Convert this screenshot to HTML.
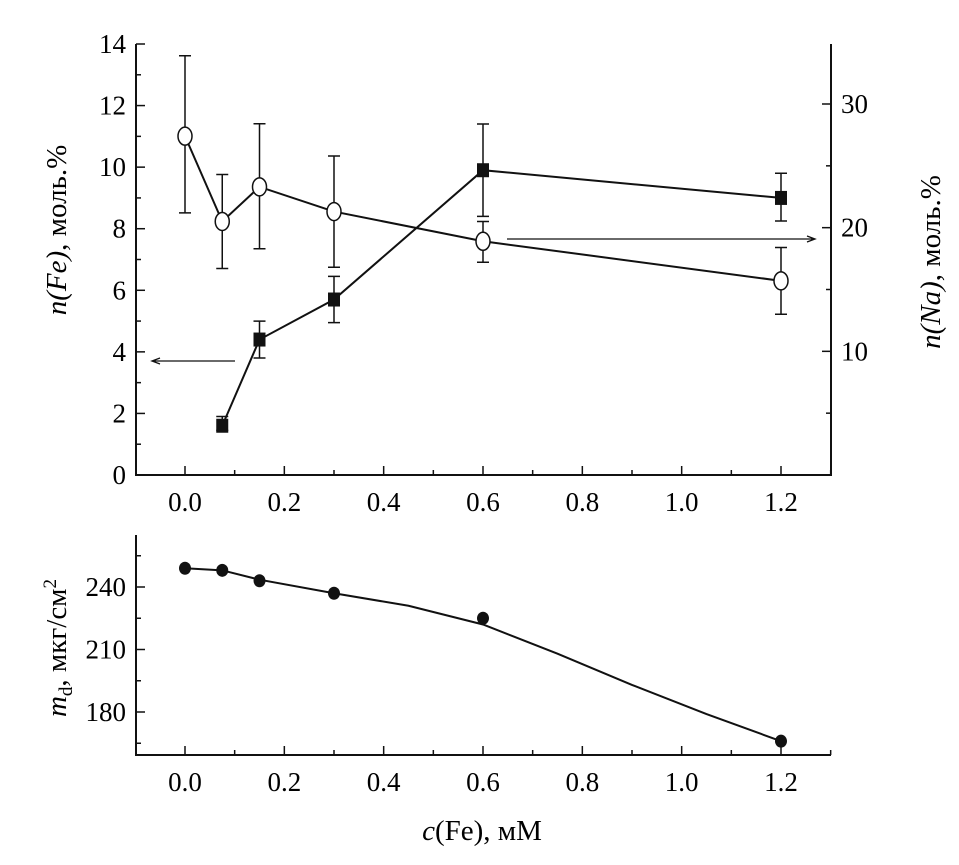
<!DOCTYPE html>
<html><head><meta charset="utf-8"><style>
html,body{margin:0;padding:0;background:#fff;}
svg{display:block;font-family:"Liberation Serif","DejaVu Serif",serif;}
</style></head><body>
<svg id="chart" width="959" height="865" viewBox="0 0 959 865">
<g id="topPanel"></g>
<g id="botPanel"></g>
<text transform="translate(66,230) rotate(-90)" text-anchor="middle" font-size="29"><tspan font-style="italic">n(Fe)</tspan>, моль.%</text>
<text transform="translate(940,262) rotate(-90)" text-anchor="middle" font-size="29"><tspan font-style="italic">n(Na)</tspan>, моль.%</text>
<text transform="translate(66,648) rotate(-90)" text-anchor="middle" font-size="29"><tspan font-style="italic">m</tspan><tspan font-size="19" dy="6">d</tspan><tspan dy="-6">, мкг/см</tspan><tspan font-size="19" dy="-10">2</tspan></text>
<text x="482" y="840" text-anchor="middle" font-size="29"><tspan font-style="italic">c</tspan>(Fe), мМ</text>
</svg>
<script>
const xCats=[0,0.075,0.15,0.3,0.6,1.2];
const feVals=[null,1.6,4.4,5.7,9.9,9.0];
const feLo=[null,1.45,3.8,4.95,8.4,8.25];
const feHi=[null,1.9,5.0,6.45,11.4,9.8];
const naVals=[27.4,20.5,23.3,21.3,18.9,15.7];
const naLo=[21.2,16.7,18.3,16.8,17.2,13.0];
const naHi=[33.9,24.3,28.4,25.8,20.5,18.4];
const mdVals=[249,248,243,237,225,166];
const fitX=[0,0.075,0.15,0.3,0.45,0.6,0.75,0.9,1.05,1.2];
const fitVals=[249,248,243.5,237,231,222,208,193,179,166];
const xTicks=[0,0.2,0.4,0.6,0.8,1.0,1.2];
const leftTicks=[0,2,4,6,8,10,12,14];
const rightTicks=[10,20,30];
const mdTicks=[180,210,240];

const NS="http://www.w3.org/2000/svg";
const X0=136,X1=831;
const x=v=>185+(v)*(781-185)/1.2;
const yL=v=>475-v*(475-44)/14;
const yR=v=>475-v*(475-104)/30;
const yM=v=>587-(v-240)*(712-587)/60;
function el(p,tag,a){const e=document.createElementNS(NS,tag);for(const k in a)e.setAttribute(k,a[k]);p.appendChild(e);return e;}
const gTop=document.getElementById('topPanel'),gBot=document.getElementById('botPanel');
const st={stroke:'#111','stroke-width':2,fill:'none'};
let a=el(gTop,'path',Object.assign({d:`M${X0},44V475H${X1}V44`},st));


for(let v=0;v<=14;v++){const t=el(gTop,'line',{x1:X0,x2:X0+(v%2?5:9),y1:yL(v),y2:yL(v),stroke:'#111','stroke-width':1.5});

}
leftTicks.forEach(v=>{const t=el(gTop,'text',{x:X0-10,y:yL(v)+9,'text-anchor':'end','font-size':27});t.textContent=v;

});
for(let v=5;v<=30;v+=5){const t=el(gTop,'line',{x1:X1,x2:X1-(v%10?5:9),y1:yR(v),y2:yR(v),stroke:'#111','stroke-width':1.5});

}
rightTicks.forEach(v=>{const t=el(gTop,'text',{x:X1+10,y:yR(v)+9,'font-size':27});t.textContent=v;

});
function xAxis(g,yb){for(let i=0;i<=13;i++){const v=i*0.1;const t=el(g,'line',{x1:x(v),x2:x(v),y1:yb,y2:yb-(i%2?5:9),stroke:'#111','stroke-width':1.5});

}
xTicks.forEach(v=>{const t=el(g,'text',{x:x(v),y:yb+36,'text-anchor':'middle','font-size':27});t.textContent=v.toFixed(1);

});}
xAxis(gTop,475);
let pts=xCats.map((c,i)=>x(c)+','+yR(naVals[i])).join(' ');
let l=el(gTop,'polyline',{points:pts,stroke:'#111','stroke-width':2,fill:'none'});


pts=xCats.map((c,i)=>feVals[i]==null?null:x(c)+','+yL(feVals[i])).filter(p=>p).join(' ');
l=el(gTop,'polyline',{points:pts,stroke:'#111','stroke-width':2,fill:'none'});


function err(g,cx,y1,y2,name){const e=el(g,'path',{d:`M${cx},${y1}V${y2}M${cx-6},${y1}H${cx+6}M${cx-6},${y2}H${cx+6}`,stroke:'#111','stroke-width':1.5,fill:'none'});

}
xCats.forEach((c,i)=>{err(gTop,x(c),yR(naLo[i]),yR(naHi[i]),'na-error-bar');
if(feVals[i]!=null)err(gTop,x(c),yL(feLo[i]),yL(feHi[i]),'fe-error-bar');});
xCats.forEach((c,i)=>{const m=el(gTop,'ellipse',{cx:x(c),cy:yR(naVals[i]),rx:7,ry:9,fill:'#fff',stroke:'#111','stroke-width':1.5});


if(feVals[i]!=null){const s=el(gTop,'rect',{x:x(c)-6,y:yL(feVals[i])-7,width:12,height:14,fill:'#111'});

}});
let ar=el(gTop,'path',{d:`M235,361H153M160,358L152,361L160,364`,stroke:'#111','stroke-width':1.3,fill:'none'});


ar=el(gTop,'path',{d:`M507,239H814M807,236L815,239L807,242`,stroke:'#111','stroke-width':1.3,fill:'none'});


a=el(gBot,'path',Object.assign({d:`M${X0},535V755H${X1}`},st));


for(let v=165;v<=255;v+=15){const t=el(gBot,'line',{x1:X0,x2:X0+(v%30?5:9),y1:yM(v),y2:yM(v),stroke:'#111','stroke-width':1.5});

}
mdTicks.forEach(v=>{const t=el(gBot,'text',{x:X0-10,y:yM(v)+9,'text-anchor':'end','font-size':27});t.textContent=v;

});
xAxis(gBot,755);
l=el(gBot,'polyline',{points:fitX.map((c,i)=>x(c)+','+yM(fitVals[i])).join(' '),stroke:'#111','stroke-width':2,fill:'none'});


xCats.forEach((c,i)=>{const m=el(gBot,'ellipse',{cx:x(c),cy:yM(mdVals[i]),rx:6,ry:6.5,fill:'#111'});

});
</script>
</body></html>
